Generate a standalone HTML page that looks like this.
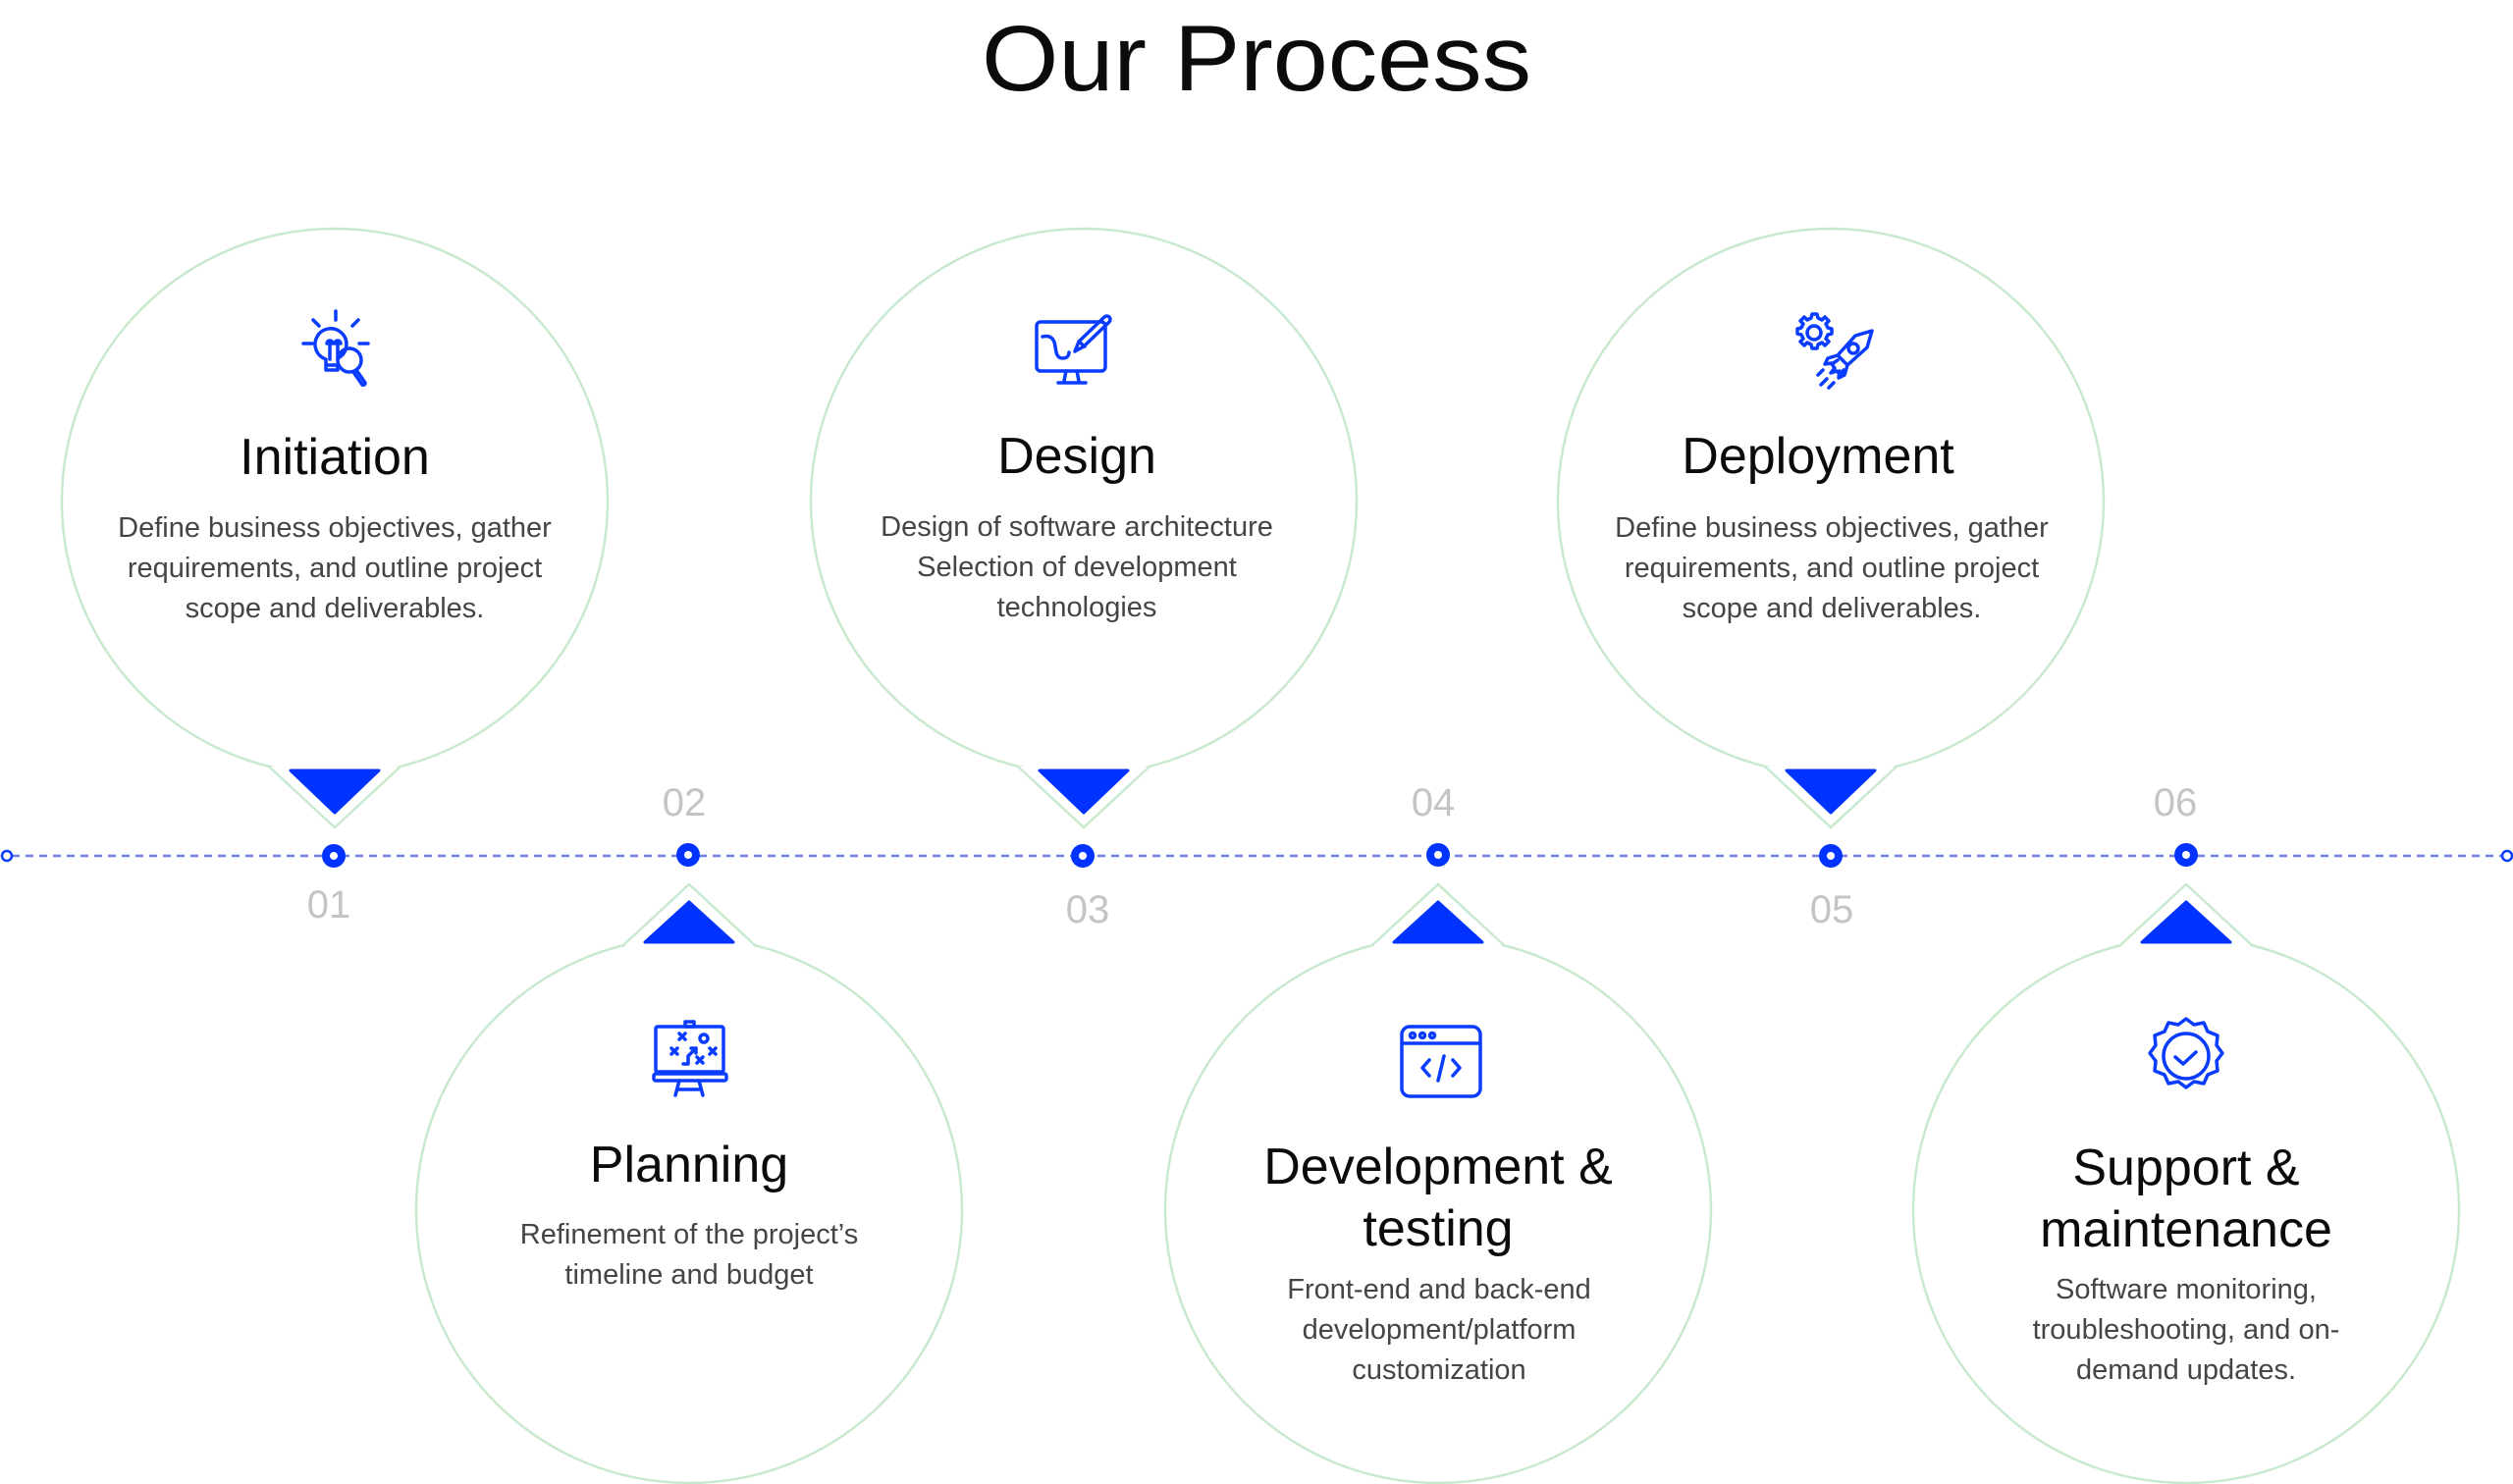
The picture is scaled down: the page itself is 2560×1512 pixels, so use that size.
<!DOCTYPE html>
<html><head><meta charset="utf-8"><style>
html,body{margin:0;padding:0;background:#fff;}
svg{display:block;}
text{font-family:"Liberation Sans",sans-serif;}
.t{font-size:52px;fill:#0b0b0b;text-anchor:middle;}
.d{font-size:29px;fill:#454545;text-anchor:middle;}
.n{font-size:40px;fill:#c4c4c4;text-anchor:middle;}
.ic{fill:none;stroke:#0a3cff;stroke-width:3.5;stroke-linecap:round;stroke-linejoin:round;}
</style></head><body>
<svg width="2560" height="1512" viewBox="0 0 2560 1512" xmlns="http://www.w3.org/2000/svg">
<text x="1280" y="92" font-size="95" text-anchor="middle" fill="#0b0b0b" textLength="560" lengthAdjust="spacingAndGlyphs">Our Process</text>

<line x1="12" y1="872" x2="2548" y2="872" stroke="#7080e0" stroke-width="2.5" stroke-dasharray="8 6"/>
<circle cx="7" cy="872" r="5" fill="#fff" stroke="#0a3cff" stroke-width="2.5"/>
<circle cx="2554" cy="872" r="5" fill="#fff" stroke="#0a3cff" stroke-width="2.5"/>

<g fill="none" stroke="#c9e9cf" stroke-width="2.5">
<circle cx="341" cy="511" r="278"/><circle cx="1104" cy="511" r="278"/><circle cx="1865" cy="511" r="278"/>
<circle cx="702" cy="1233" r="278"/><circle cx="1465" cy="1233" r="278"/><circle cx="2227" cy="1233" r="278"/>
</g>
<g fill="#fff">
<rect x="276" y="781" width="130" height="12"/><rect x="1039" y="781" width="130" height="12"/><rect x="1800" y="781" width="130" height="12"/>
<rect x="637" y="951" width="130" height="13"/><rect x="1400" y="951" width="130" height="13"/><rect x="2162" y="951" width="130" height="13"/>
</g>
<g fill="none" stroke="#c9e9cf" stroke-width="2.5" stroke-linejoin="miter">
<polyline points="274,781 341,843 408,781"/><polyline points="1037,781 1104,843 1171,781"/><polyline points="1798,781 1865,843 1932,781"/>
<polyline points="635,963 702,901 769,963"/><polyline points="1398,963 1465,901 1532,963"/><polyline points="2160,963 2227,901 2294,963"/>
</g>
<g fill="#0033ff" stroke="#0033ff" stroke-width="3" stroke-linejoin="round">
<polygon points="296,785 386,785 341,828"/><polygon points="1059,785 1149,785 1104,828"/><polygon points="1820,785 1910,785 1865,828"/>
<polygon points="657,960 747,960 702,919"/><polygon points="1420,960 1510,960 1465,919"/><polygon points="2182,960 2272,960 2227,919"/>
</g>

<g fill="#0033ff">
<circle cx="340" cy="872" r="12"/><circle cx="701" cy="871" r="12"/><circle cx="1103" cy="872" r="12"/>
<circle cx="1465" cy="871" r="12"/><circle cx="1865" cy="872" r="12"/><circle cx="2227" cy="871" r="12"/>
</g>
<g fill="#fff">
<circle cx="340" cy="872" r="4"/><circle cx="701" cy="871" r="4"/><circle cx="1103" cy="872" r="4"/>
<circle cx="1465" cy="871" r="4"/><circle cx="1865" cy="872" r="4"/><circle cx="2227" cy="871" r="4"/>
</g>
<text class="n" x="335" y="935">01</text>
<text class="n" x="697" y="831">02</text>
<text class="n" x="1108" y="940">03</text>
<text class="n" x="1460" y="831">04</text>
<text class="n" x="1866" y="940">05</text>
<text class="n" x="2216" y="831">06</text>

<text class="t" x="341" y="483">Initiation</text>
<text class="d" x="341" y="547">Define business objectives, gather</text>
<text class="d" x="341" y="588">requirements, and outline project</text>
<text class="d" x="341" y="629">scope and deliverables.</text>

<text class="t" x="1097" y="482">Design</text>
<text class="d" x="1097" y="546">Design of software architecture</text>
<text class="d" x="1097" y="587">Selection of development</text>
<text class="d" x="1097" y="628">technologies</text>

<text class="t" x="1852" y="482">Deployment</text>
<text class="d" x="1866" y="547">Define business objectives, gather</text>
<text class="d" x="1866" y="588">requirements, and outline project</text>
<text class="d" x="1866" y="629">scope and deliverables.</text>

<text class="t" x="702" y="1204">Planning</text>
<text class="d" x="702" y="1267">Refinement of the project’s</text>
<text class="d" x="702" y="1308">timeline and budget</text>

<text class="t" x="1465" y="1206">Development &amp;</text>
<text class="t" x="1465" y="1269">testing</text>
<text class="d" x="1466" y="1323">Front-end and back-end</text>
<text class="d" x="1466" y="1364">development/platform</text>
<text class="d" x="1466" y="1405">customization</text>

<text class="t" x="2227" y="1207">Support &amp;</text>
<text class="t" x="2227" y="1270">maintenance</text>
<text class="d" x="2227" y="1323">Software monitoring,</text>
<text class="d" x="2227" y="1364">troubleshooting, and on-</text>
<text class="d" x="2227" y="1405">demand updates.</text>

<g class="ic">
<line x1="342" y1="317" x2="342" y2="326"/><line x1="319" y1="326" x2="325" y2="332"/><line x1="365" y1="326" x2="359" y2="332"/>
<line x1="309" y1="350" x2="318" y2="350"/><line x1="366" y1="350" x2="375" y2="350"/>
<path d="M332,372 v-6 a16,16 0 1 1 14,-2"/>
<path d="M336,366 v-16 M344,366 v-16 M333,350 a3,3 0 1 1 6,0 M341,350 a3,3 0 1 1 6,0"/>
<path d="M332,372 h12 v5 h-12 z"/>
<circle cx="356" cy="367" r="12"/>
<path d="M363,377 l9,13 a2,2 0 0 1 -3,2 l-9,-13"/>
</g>
<g class="ic">
<rect x="1056" y="328" width="70" height="50" rx="4"/>
<path d="M1062,343 c8,-2 12,2 13,10 c1,8 2,12 8,12 c5,0 6,-4 6,-6"/>
<path d="M1095,358 l4,-10 l26,-25 a3,3 0 0 1 5,5 l-26,25 z"/>
<line x1="1099" y1="348" x2="1105" y2="353"/>
<path d="M1086,378 l-2,10 M1097,378 l2,10 M1078,390 h28"/>
</g>
<g class="ic">
<circle cx="1848" cy="339" r="7"/>
<path d="M1848,320 l3,0 l1,4 l4,2 l3,-3 l4,4 l-3,3 l2,4 l4,1 v5 l-4,1 l-2,4 l3,3 l-4,4 l-3,-3 l-4,2 l-1,4 h-5 l-1,-4 l-4,-2 l-3,3 l-4,-4 l3,-3 l-2,-4 l-4,-1 v-5 l4,-1 l2,-4 l-3,-3 l4,-4 l3,3 l4,-2 l1,-4 z"/>
<path d="M1907,337 l-17,5 l-18,20 l10,10 l20,-18 z"/>
<circle cx="1888" cy="355" r="5"/>
<path d="M1872,362 l-10,3 l-3,6 l7,-1 M1882,372 l-3,10 l-6,3 l1,-7"/>
<path d="M1872,367 l-6,4 l3,4 l-4,5 l6,-2 l4,4 l3,-5"/>
<line x1="1852" y1="382" x2="1857" y2="377"/><line x1="1855" y1="392" x2="1861" y2="386"/><line x1="1863" y1="395" x2="1868" y2="390"/>
</g>
<g class="ic">
<rect x="668" y="1046" width="69" height="46" rx="2"/>
<rect x="698" y="1041" width="9" height="5"/>
<rect x="666" y="1094" width="74" height="7" rx="2"/>
<path d="M692,1101 l-4,15 M712,1101 l4,15 M690,1110 h24"/>
<path d="M692,1053 l6,6 M698,1053 l-6,6 M684,1068 l6,6 M690,1068 l-6,6 M710,1077 l6,6 M716,1077 l-6,6 M723,1068 l6,6 M729,1068 l-6,6"/>
<circle cx="717" cy="1058" r="4"/>
<path d="M696,1084 h5 v-8 l8,-8 M704,1068 h5 v5"/>
</g>
<g class="ic">
<rect x="1428" y="1046" width="80" height="71" rx="8"/>
<line x1="1428" y1="1063" x2="1508" y2="1063"/>
<circle cx="1439" cy="1055" r="2.5"/><circle cx="1449" cy="1055" r="2.5"/><circle cx="1459" cy="1055" r="2.5"/>
<path d="M1456,1080 l-7,8 l7,8 M1480,1080 l7,8 l-7,8 M1471,1076 l-6,25"/>
</g>
<g class="ic">
<path d="M2227,1038 l8,6 l10,-2 l4,9 l10,4 l-1,10 l6,8 l-6,8 l1,10 l-10,4 l-4,9 l-10,-2 l-8,6 l-8,-6 l-10,2 l-4,-9 l-10,-4 l1,-10 l-6,-8 l6,-8 l-1,-10 l10,-4 l4,-9 l10,2 z"/>
<circle cx="2227" cy="1076" r="23"/>
<path d="M2216,1077 l8,7 l13,-12"/>
</g>
</svg>
</body></html>
